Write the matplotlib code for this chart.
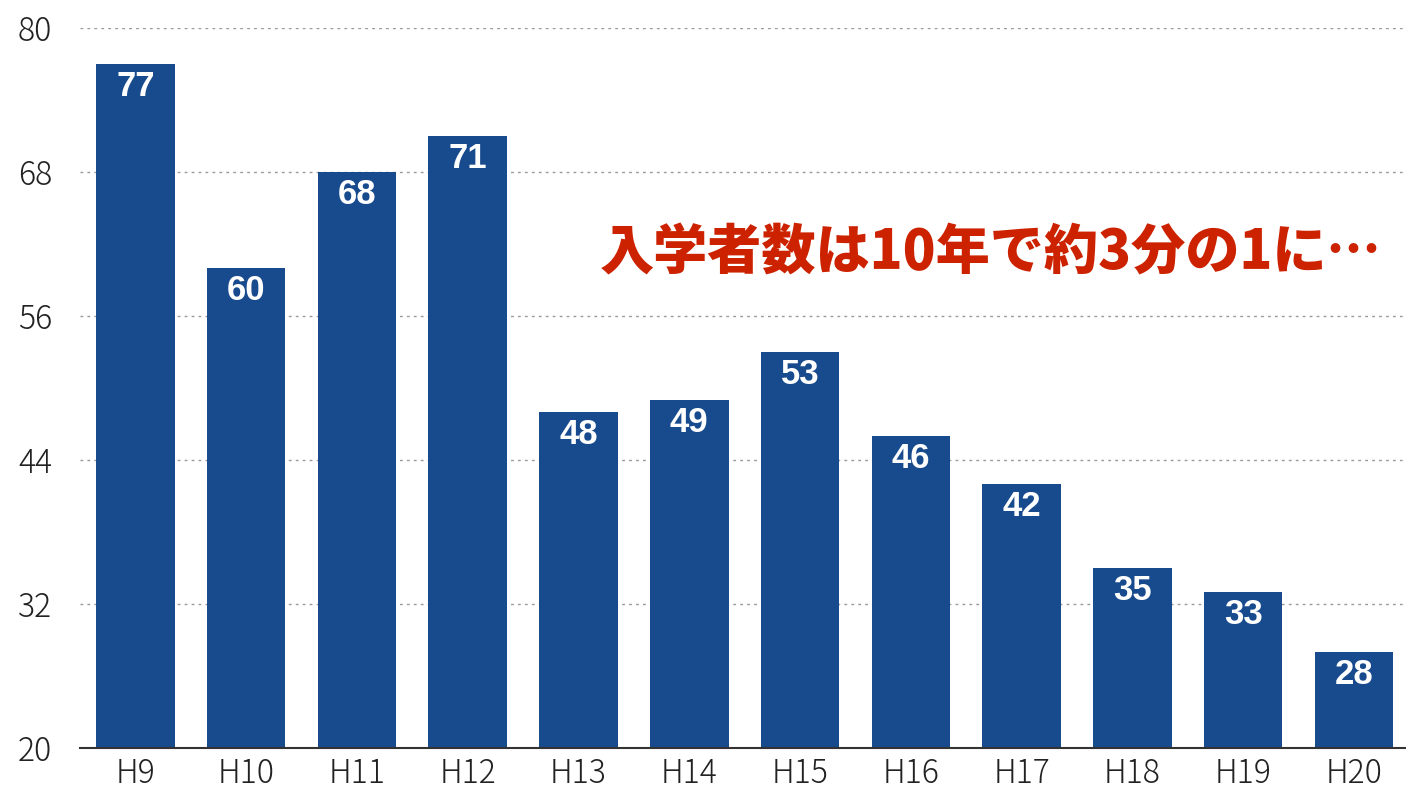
import matplotlib
matplotlib.use("Agg")
import matplotlib.pyplot as plt
import numpy as np

####### DATA #######

years = ['H9', 'H10', 'H11', 'H12', 'H13', 'H14', 'H15', 'H16', 'H17', 'H18', 'H19', 'H20']
students = [77, 60, 68, 71, 48, 49, 53, 46, 42, 35, 33, 28]
yticks = [20, 32, 44, 56, 68, 80]
note = '入学者数は10年で約3分の1に…'

####### PLOT #######

plt.rcParams['font.family'] = ['Noto Sans CJK JP', 'DejaVu Sans']

fig = plt.figure(figsize=(14.06, 7.94), dpi=100)
ax = fig.add_axes([0.0569, 0.0579, 0.9431, 0.9068])

x = np.arange(len(years))
ax.bar(x, students, width=0.71, color='#174b8e', zorder=2)

for xi, v in zip(x, students):
    ax.text(xi, v - 0.5, str(v), ha='center', va='top', color='white',
            fontsize=25, fontweight='bold', family=['Liberation Sans', 'DejaVu Sans'], zorder=3)

ax.set_ylim(20, 80)
ax.set_xlim(-0.5, 11.47)
ax.set_yticks(yticks)
ax.set_xticks(x)
ax.set_xticklabels(years)
ax.tick_params(axis='both', length=0, labelsize=23, colors='#222222')
ax.tick_params(axis='x', pad=6)
ax.tick_params(axis='y', pad=20)
for lab in ax.get_xticklabels() + ax.get_yticklabels():
    lab.set_fontweight('light')

ax.grid(axis='y', linestyle=(0, (2, 3)), color='#999999', linewidth=1, zorder=0)
for s in ['top', 'right', 'left']:
    ax.spines[s].set_visible(False)
ax.spines['bottom'].set_color('#333333')
ax.spines['bottom'].set_linewidth(1.5)
ax.spines['bottom'].set_zorder(4)

ax.text(7.72, 61.25, note, ha='center', va='center',
        color='#cc2200', fontsize=39, fontweight='black')

fig.savefig('out.png', dpi=100)
